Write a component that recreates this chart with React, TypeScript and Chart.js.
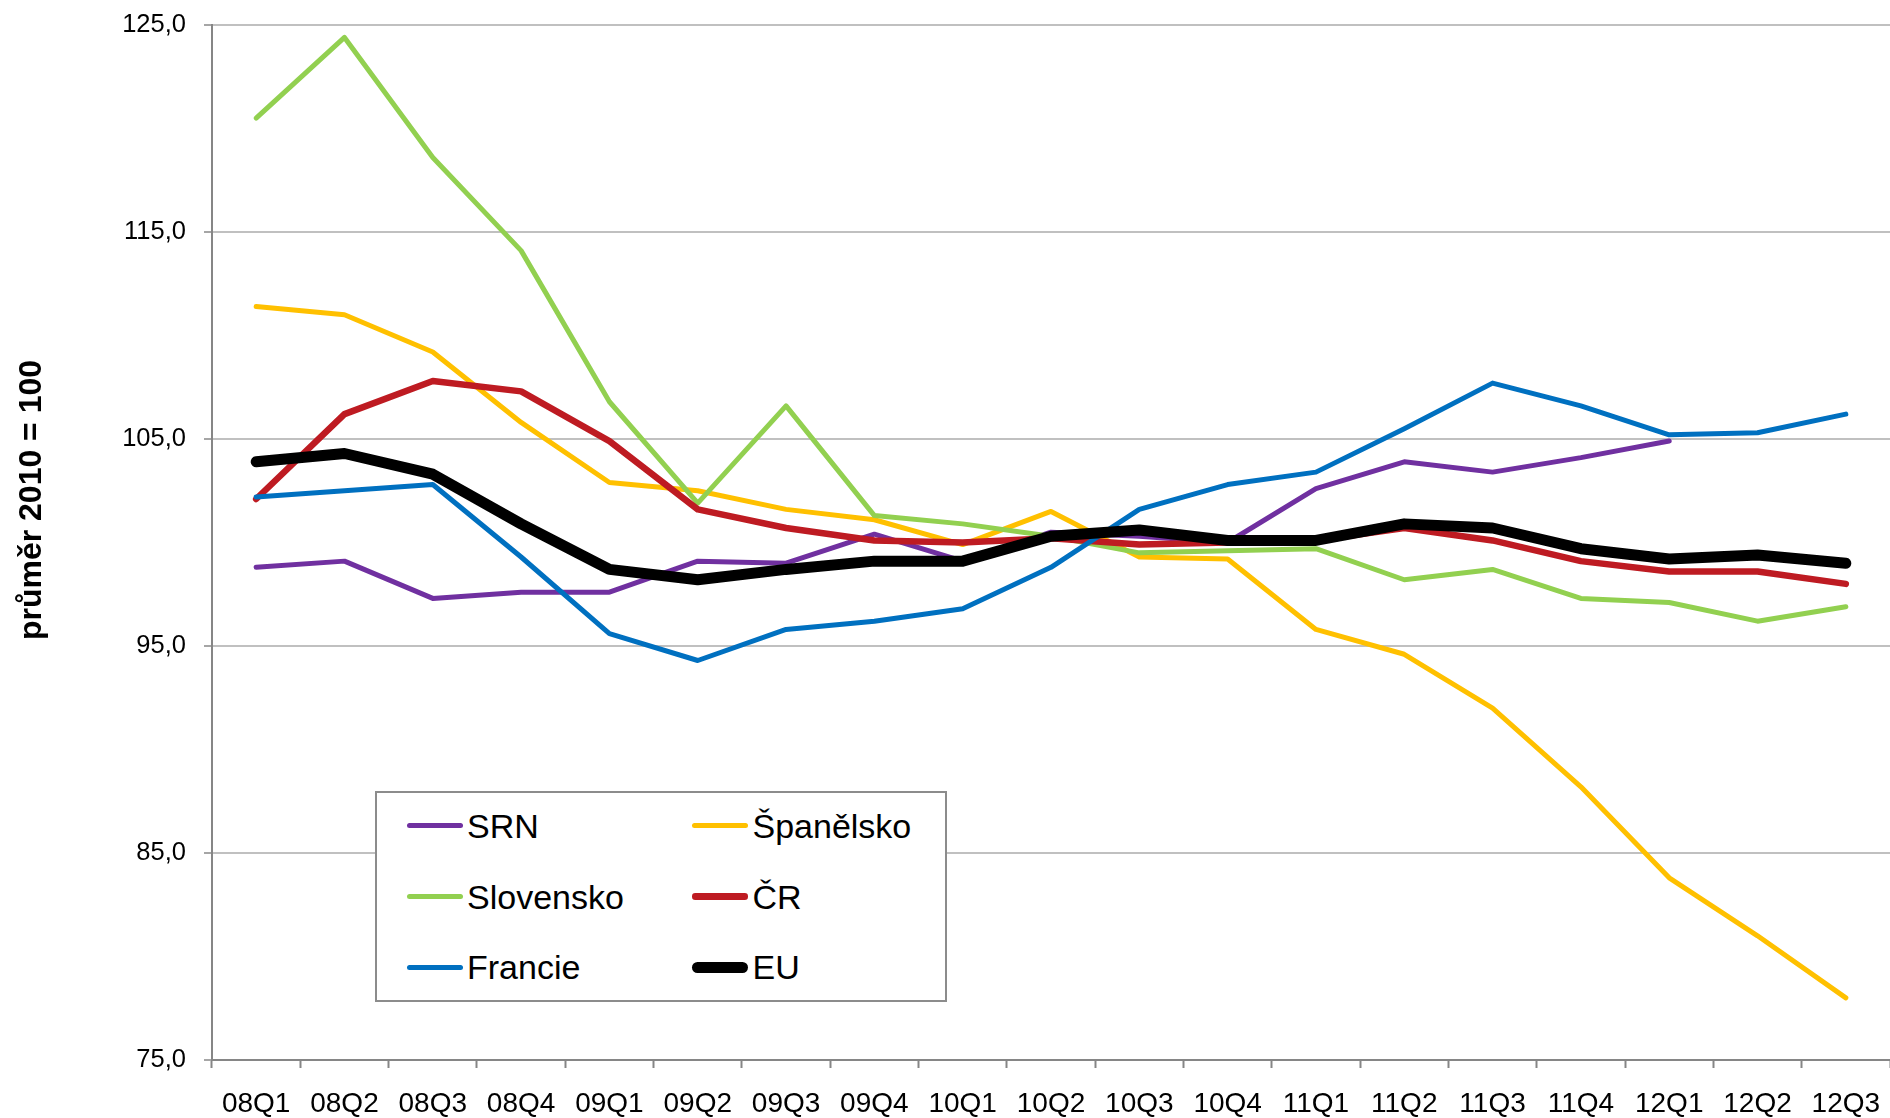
import React, { useEffect, useRef } from "react";
import { Chart, registerables } from "chart.js";

Chart.register(...registerables);

const categories = [
  "08Q1", "08Q2", "08Q3", "08Q4", "09Q1", "09Q2", "09Q3", "09Q4", "10Q1", "10Q2",
  "10Q3", "10Q4", "11Q1", "11Q2", "11Q3", "11Q4", "12Q1", "12Q2", "12Q3",
];

const srn = [98.8, 99.1, 97.3, 97.6, 97.6, 99.1, 99.0, 100.4, 99.1, 100.5, 100.3, 100.0, 102.6, 103.9, 103.4, 104.1, 104.9, null, null];
const spanelsko = [111.4, 111.0, 109.2, 105.8, 102.9, 102.5, 101.6, 101.1, 99.9, 101.5, 99.3, 99.2, 95.8, 94.6, 92.0, 88.2, 83.8, 81.0, 78.0];
const slovensko = [120.5, 124.4, 118.6, 114.1, 106.8, 101.9, 106.6, 101.3, 100.9, 100.3, 99.5, 99.6, 99.7, 98.2, 98.7, 97.3, 97.1, 96.2, 96.9];
const cr = [102.1, 106.2, 107.8, 107.3, 104.9, 101.6, 100.7, 100.1, 100.0, 100.2, 99.9, 100.0, 100.1, 100.7, 100.1, 99.1, 98.6, 98.6, 98.0];
const francie = [102.2, 102.5, 102.8, 99.3, 95.6, 94.3, 95.8, 96.2, 96.8, 98.8, 101.6, 102.8, 103.4, 105.5, 107.7, 106.6, 105.2, 105.3, 106.2];
const eu = [103.9, 104.3, 103.3, 100.9, 98.7, 98.2, 98.7, 99.1, 99.1, 100.3, 100.6, 100.1, 100.1, 100.9, 100.7, 99.7, 99.2, 99.4, 99.0];

const yMin = 75;
const yMax = 125;
const yStep = 10;
const yTitle = "průměr 2010 = 100";

const FONT = '"Liberation Sans", Arial, Helvetica, sans-serif';

const series = [
  { label: "SRN", data: srn, color: "#7030A0", width: 5, order: 5 },
  { label: "Španělsko", data: spanelsko, color: "#FFC000", width: 5, order: 4 },
  { label: "Slovensko", data: slovensko, color: "#92D050", width: 5, order: 3 },
  { label: "ČR", data: cr, color: "#BE1B22", width: 6.5, order: 2 },
  { label: "Francie", data: francie, color: "#0070C0", width: 5, order: 1 },
  { label: "EU", data: eu, color: "#000000", width: 11, order: 0 },
];

const yTitlePlugin = {
  id: "yTitleCustom",
  afterDraw(chart: any) {
    const ctx = chart.ctx;
    ctx.save();
    ctx.translate(32, 500);
    ctx.rotate(-Math.PI / 2);
    ctx.font = `bold 32px ${FONT}`;
    ctx.fillStyle = "#000";
    ctx.textAlign = "center";
    ctx.textBaseline = "middle";
    ctx.fillText(yTitle, 0, 0);
    ctx.restore();
  },
};

function Legend() {
  // legend layout: 2 columns, row-major order of series
  const colLine = [32, 317.5];
  const colText = [92.5, 378];
  const rowY = [35, 106, 176.6];
  return (
    <div
      style={{
        position: "absolute",
        left: 374.5,
        top: 790.7,
        width: 572,
        height: 211.6,
        boxSizing: "border-box",
        border: "2px solid #8C8C8C",
        background: "#fff",
      }}
    >
      {series.map((s, i) => {
        const col = i % 2;
        const row = Math.floor(i / 2);
        const cy = rowY[row] - 2;
        return (
          <React.Fragment key={s.label}>
            <div
              style={{
                position: "absolute",
                left: colLine[col] - 2,
                top: cy - s.width / 2,
                width: 56,
                height: s.width,
                borderRadius: s.width / 2,
                background: s.color,
              }}
            />
            <div
              style={{
                position: "absolute",
                left: colText[col] - 2,
                top: cy - 17,
                height: 34,
                lineHeight: "34px",
                fontFamily: FONT,
                fontSize: 34,
                color: "#000",
                whiteSpace: "nowrap",
              }}
            >
              {s.label}
            </div>
          </React.Fragment>
        );
      })}
    </div>
  );
}

export default function App() {
  const canvasRef = useRef<HTMLCanvasElement | null>(null);

  useEffect(() => {
    const canvas = canvasRef.current;
    if (!canvas) return;
    const chart = new Chart(canvas, {
      type: "line",
      data: {
        labels: categories,
        datasets: series.map((s) => ({
          label: s.label,
          data: s.data,
          borderColor: s.color,
          backgroundColor: s.color,
          borderWidth: s.width,
          pointRadius: 0,
          pointHoverRadius: 0,
          tension: 0,
          borderJoinStyle: "round",
          borderCapStyle: "round",
          spanGaps: false,
          fill: false,
          order: s.order,
        })),
      },
      options: {
        animation: false,
        responsive: false,
        devicePixelRatio: 1,
        layout: { padding: { top: 25, left: 0, right: 0, bottom: 0 } },
        plugins: {
          legend: { display: false },
          tooltip: { enabled: false },
          title: { display: false },
        },
        scales: {
          x: {
            type: "category",
            offset: true,
            grid: {
              offset: true,
              drawOnChartArea: false,
              drawTicks: true,
              tickLength: 8,
              tickColor: "#868686",
              tickWidth: 2,
            },
            border: { color: "#868686", width: 2 },
            ticks: {
              color: "#000",
              font: { family: FONT, size: 28 },
              padding: 19,
              maxRotation: 0,
              minRotation: 0,
              autoSkip: false,
            },
            afterFit(scale: any) {
              scale.height = 58;
              scale.paddingLeft = 0;
              scale.paddingRight = 0;
            },
          },
          y: {
            min: yMin,
            max: yMax,
            ticks: {
              stepSize: yStep,
              color: "#000",
              font: { family: FONT, size: 25.5 },
              padding: 18,
              callback: (v: any) => Number(v).toFixed(1).replace(".", ","),
            },
            grid: {
              color: "#C0C0C0",
              lineWidth: 2,
              drawTicks: true,
              tickLength: 8,
              tickColor: "#A6A6A6",
            },
            border: { color: "#868686", width: 2 },
            afterFit(scale: any) {
              scale.width = 212;
              scale.paddingTop = 0;
              scale.paddingBottom = 0;
            },
          },
        },
      },
      plugins: [yTitlePlugin],
    } as any);
    return () => chart.destroy();
  }, []);

  return (
    <div style={{ position: "fixed", left: 0, top: 0, width: 1890, height: 1118, background: "#fff" }}>
      <canvas ref={canvasRef} width={1890} height={1118} style={{ display: "block" }} />
      <Legend />
    </div>
  );
}
